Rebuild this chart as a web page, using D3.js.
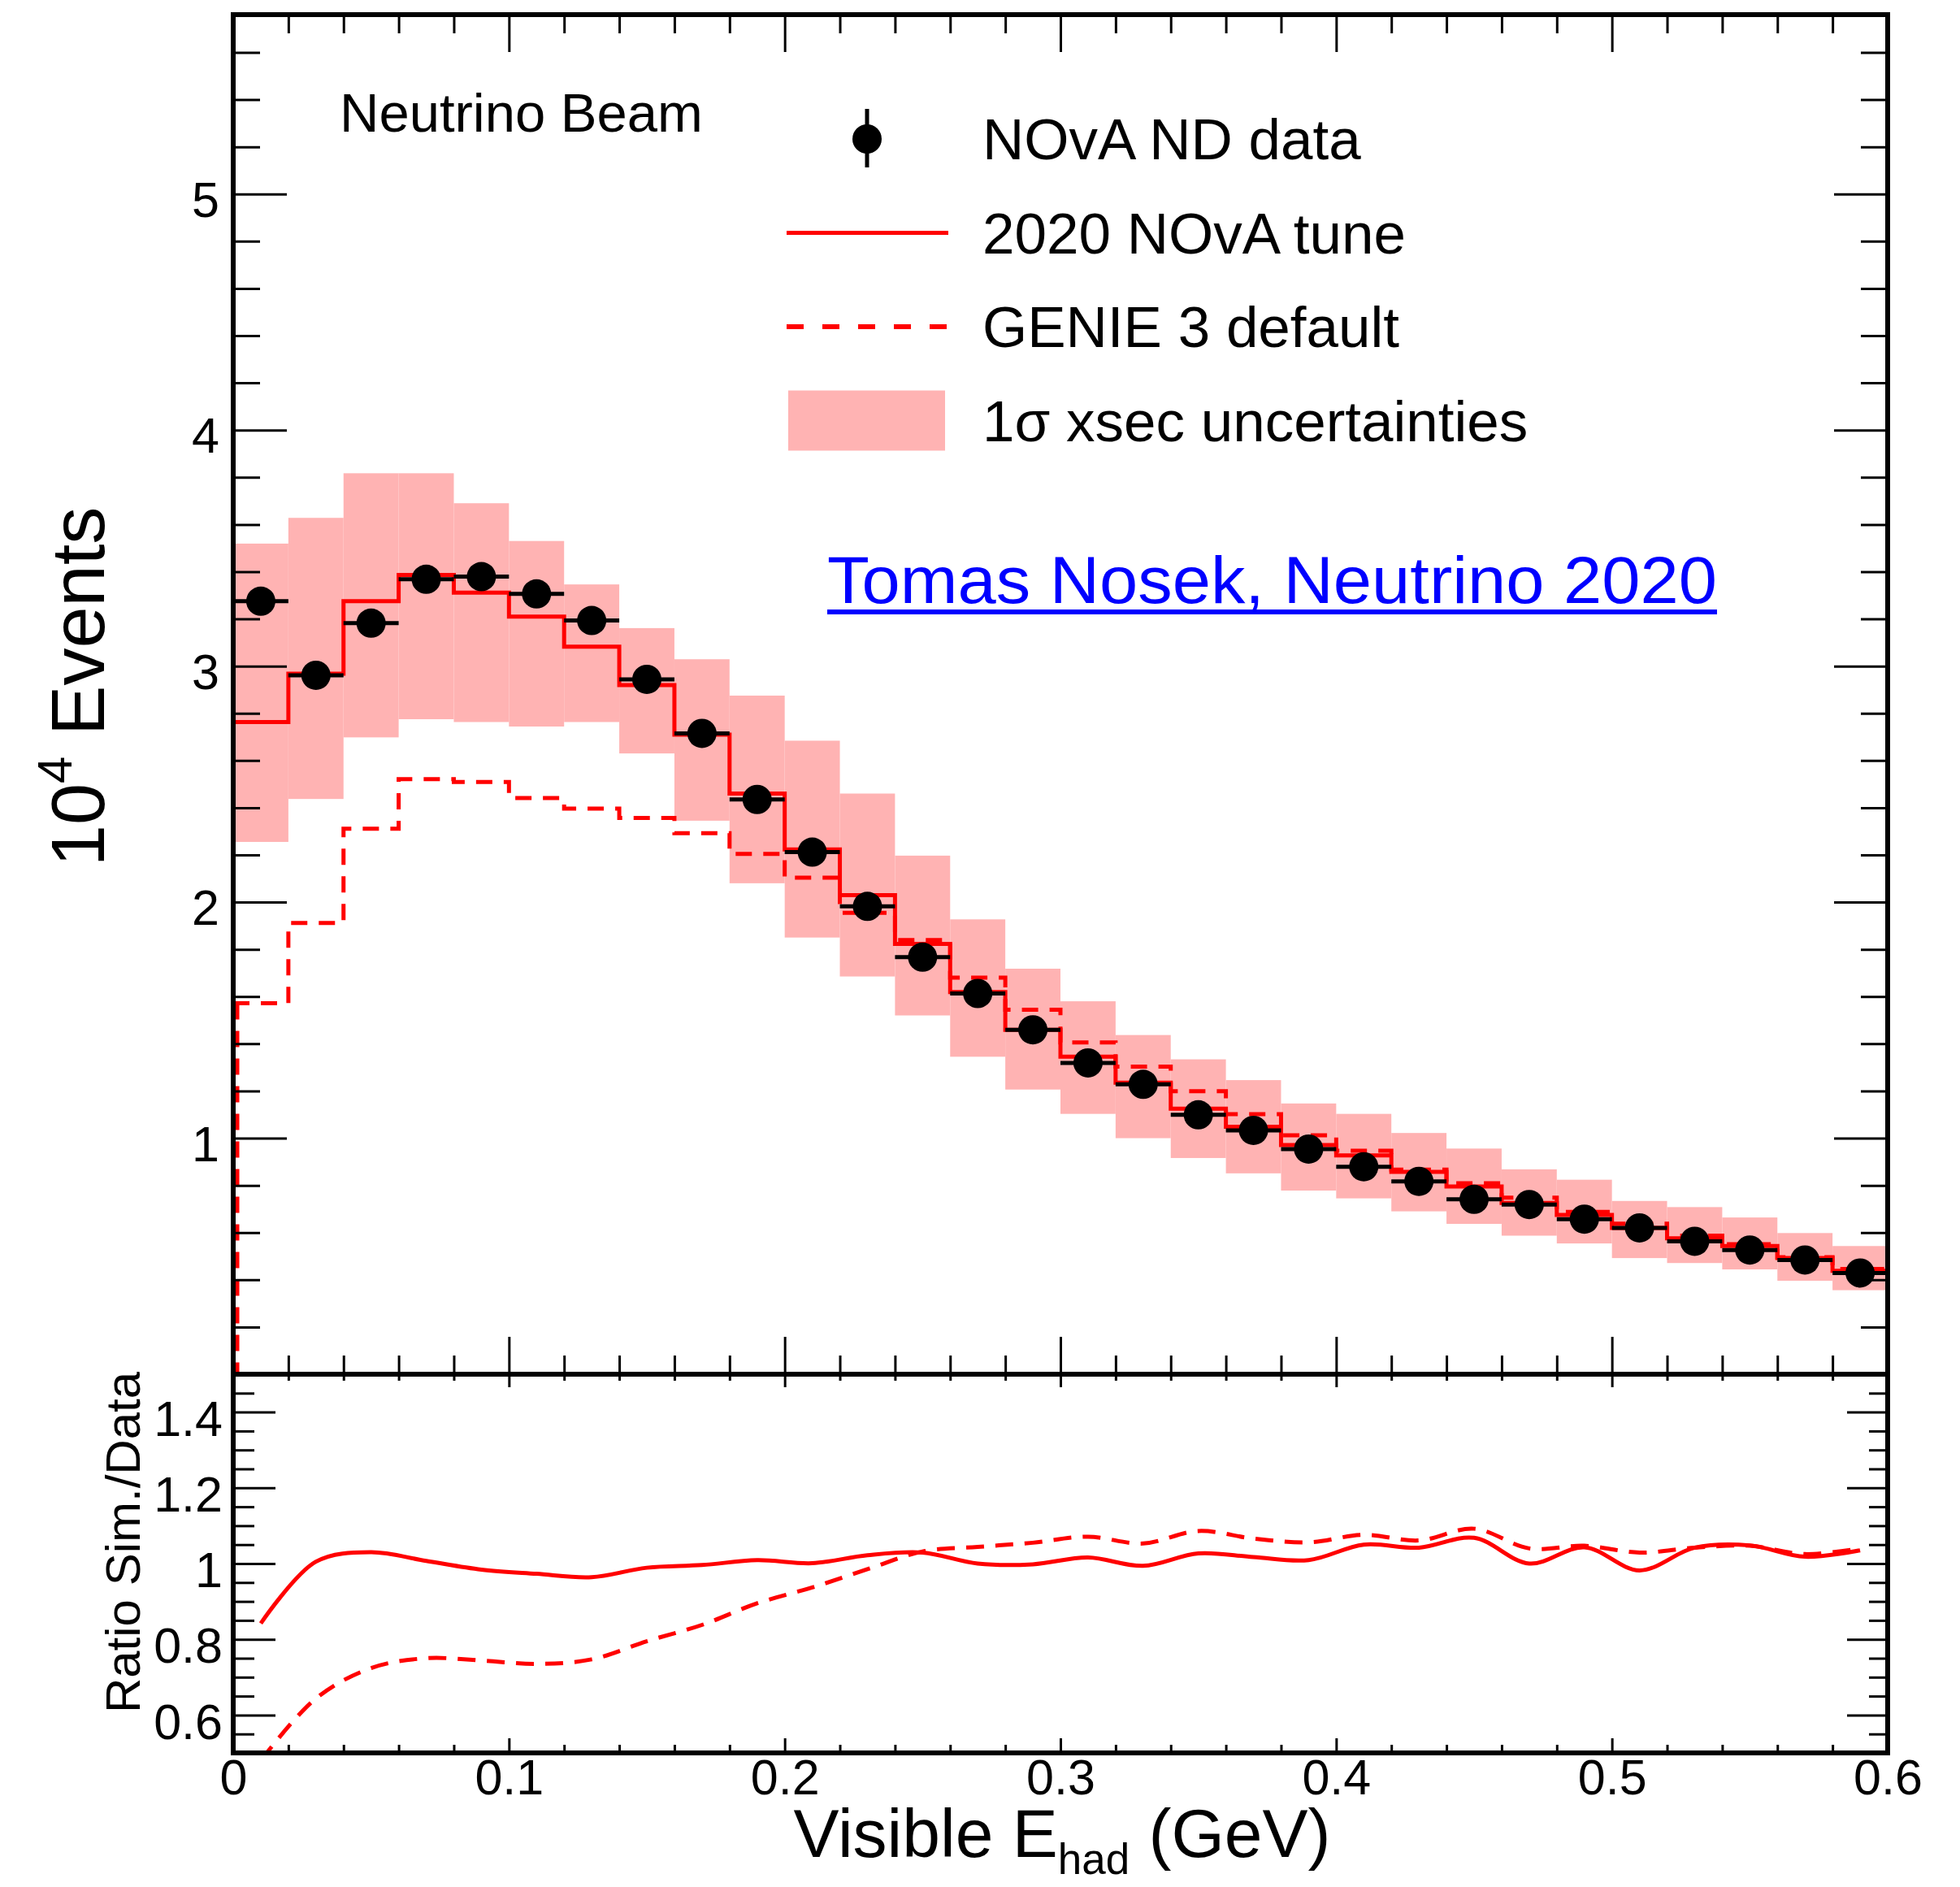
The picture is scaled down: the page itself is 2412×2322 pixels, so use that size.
<!DOCTYPE html>
<meta charset="utf-8">
<style>
body { margin: 0; background: #fff; }
svg { display: block; background: #fff; }
svg text { font-family: "Liberation Sans", Arial, Helvetica, sans-serif; fill: #000; }
</style>
<svg width="2412" height="2322"></svg>
<script src="https://cdn.jsdelivr.net/npm/d3@7"></script>
<script>

// bins of 0.02 GeV, values in units of 10^4 events
var binWidth = 0.02;
var binCenters = [0.01, 0.03, 0.05, 0.07, 0.09, 0.11, 0.13, 0.15, 0.17, 0.19,
                  0.21, 0.23, 0.25, 0.27, 0.29, 0.31, 0.33, 0.35, 0.37, 0.39,
                  0.41, 0.43, 0.45, 0.47, 0.49, 0.51, 0.53, 0.55, 0.57, 0.59];

var ndData = [3.275, 2.961, 3.182, 3.368, 3.379, 3.306, 3.193, 2.944, 2.715, 2.435,
              2.212, 1.982, 1.767, 1.613, 1.459, 1.319, 1.228, 1.099, 1.033, 0.954,
              0.879, 0.817, 0.741, 0.719, 0.657, 0.620, 0.563, 0.526, 0.484, 0.429];

var novaTune = [2.763, 2.968, 3.275, 3.386, 3.311, 3.210, 3.082, 2.920, 2.710, 2.460,
                2.223, 2.030, 1.823, 1.619, 1.459, 1.345, 1.235, 1.125, 1.048, 0.971,
                0.927, 0.857, 0.795, 0.726, 0.675, 0.620, 0.576, 0.543, 0.492, 0.438];

var genieDefault = [1.572, 1.912, 2.311, 2.521, 2.509, 2.441, 2.396, 2.357, 2.292, 2.204,
                    2.104, 1.955, 1.839, 1.680, 1.544, 1.406, 1.303, 1.199, 1.102, 1.012,
                    0.947, 0.867, 0.809, 0.748, 0.688, 0.638, 0.587, 0.551, 0.496, 0.446];

var bandHigh = [3.519, 3.628, 3.817, 3.817, 3.690, 3.530, 3.346, 3.161, 3.029, 2.875,
                2.684, 2.460, 2.197, 1.927, 1.718, 1.580, 1.437, 1.334, 1.246, 1.147,
                1.103, 1.022, 0.956, 0.868, 0.824, 0.734, 0.708, 0.664, 0.598, 0.543];

var bandLow = [2.255, 2.437, 2.698, 2.775, 2.763, 2.744, 2.763, 2.630, 2.345, 2.080,
               1.850, 1.685, 1.520, 1.345, 1.206, 1.103, 1.000, 0.916, 0.851, 0.778,
               0.745, 0.690, 0.637, 0.587, 0.554, 0.492, 0.471, 0.444, 0.396, 0.356];

var ratioTune = [0.842, 1.005, 1.030, 1.007, 0.984, 0.973, 0.964, 0.989, 0.996, 1.009,
                 1.001, 1.022, 1.029, 1.000, 0.998, 1.016, 0.994, 1.027, 1.017, 1.009,
                 1.050, 1.042, 1.068, 1.000, 1.043, 0.982, 1.042, 1.048, 1.018, 1.035];

var ratioGenie = [0.480, 0.644, 0.724, 0.750, 0.744, 0.735, 0.747, 0.795, 0.838, 0.895,
                  0.937, 0.985, 1.032, 1.044, 1.055, 1.071, 1.053, 1.086, 1.066, 1.056,
                  1.076, 1.061, 1.092, 1.040, 1.047, 1.029, 1.042, 1.047, 1.025, 1.040];

var xMajorTicks = [0, 0.1, 0.2, 0.3, 0.4, 0.5, 0.6];
var mainYTicks = [1, 2, 3, 4, 5];
var ratioYTicks = [0.6, 0.8, 1, 1.2, 1.4];
var legendLabels = ["NOvA ND data", "2020 NOvA tune", "GENIE 3 default", "1\u03c3 xsec uncertainties"];

var red = "#ff0000",
    bandColor = "#ffb3b3";

var svg = d3.select("svg");

var plotL = 287, plotR = 2323, mainT = 18, mainB = 1691, ratioB = 2157;

var x = d3.scaleLinear().domain([0, 0.6]).range([plotL, plotR]);
var y = d3.scaleLinear().domain([0, 5.76]).range([mainB, mainT]);
var yr = d3.scaleLinear().domain([0.5, 1.5]).range([ratioB, mainB]);

var defs = svg.append("defs");
defs.append("clipPath").attr("id", "clipMain").append("rect")
    .attr("x", plotL).attr("y", mainT).attr("width", plotR - plotL).attr("height", mainB - mainT);
defs.append("clipPath").attr("id", "clipRatio").append("rect")
    .attr("x", plotL).attr("y", mainB).attr("width", plotR - plotL).attr("height", ratioB - mainB);

var mainG = svg.append("g").attr("clip-path", "url(#clipMain)");

// uncertainty band
mainG.append("g").selectAll("rect")
    .data(binCenters)
    .enter().append("rect")
      .attr("x", function(d) { return x(d - binWidth / 2); })
      .attr("width", x(binWidth) - x(0))
      .attr("y", function(d, i) { return y(bandHigh[i]); })
      .attr("height", function(d, i) { return y(bandLow[i]) - y(bandHigh[i]); })
      .attr("fill", bandColor);

function stepPoints(vals) {
  var pts = binCenters.map(function(c, i) { return [c - binWidth / 2, vals[i]]; });
  var n = binCenters.length;
  pts.push([binCenters[n - 1] + binWidth / 2, vals[n - 1]]);
  return pts;
}

var stepLine = d3.line()
    .x(function(d) { return x(d[0]); })
    .y(function(d) { return y(d[1]); })
    .curve(d3.curveStepAfter);

// GENIE 3 default, with its drop to zero just inside the left frame
mainG.append("path")
    .attr("d", stepLine(stepPoints(genieDefault)))
    .attr("fill", "none")
    .attr("stroke", red)
    .attr("stroke-width", 5)
    .attr("stroke-dasharray", "20,14");
mainG.append("line")
    .attr("x1", x(0) + 5).attr("x2", x(0) + 5)
    .attr("y1", y(genieDefault[0])).attr("y2", y(0))
    .attr("stroke", red)
    .attr("stroke-width", 5)
    .attr("stroke-dasharray", "20,14");

// 2020 NOvA tune
mainG.append("path")
    .attr("d", stepLine(stepPoints(novaTune)))
    .attr("fill", "none")
    .attr("stroke", red)
    .attr("stroke-width", 5);

// data: horizontal bin-width bars and markers
var pts = mainG.append("g").selectAll("g")
    .data(binCenters)
    .enter().append("g");

pts.append("line")
    .attr("x1", function(d) { return x(d - binWidth / 2); })
    .attr("x2", function(d) { return x(d + binWidth / 2); })
    .attr("y1", function(d, i) { return y(ndData[i]); })
    .attr("y2", function(d, i) { return y(ndData[i]); })
    .attr("stroke", "#000")
    .attr("stroke-width", 5);

pts.append("circle")
    .attr("cx", function(d) { return x(d); })
    .attr("cy", function(d, i) { return y(ndData[i]); })
    .attr("r", 18)
    .attr("fill", "#000");

// ratio panel
var ratioG = svg.append("g").attr("clip-path", "url(#clipRatio)");

var ratioLine = d3.line()
    .x(function(d) { return x(d[0]); })
    .y(function(d) { return yr(d[1]); })
    .curve(d3.curveCatmullRom.alpha(0.5));

ratioG.append("path")
    .attr("d", ratioLine(binCenters.map(function(c, i) { return [c, ratioGenie[i]]; })))
    .attr("fill", "none")
    .attr("stroke", red)
    .attr("stroke-width", 5)
    .attr("stroke-dasharray", "22,14");

ratioG.append("path")
    .attr("d", ratioLine(binCenters.map(function(c, i) { return [c, ratioTune[i]]; })))
    .attr("fill", "none")
    .attr("stroke", red)
    .attr("stroke-width", 5);

// axes
function minorValues(lo, hi, step, major) {
  return d3.range(lo, hi + step / 2, step).filter(function(v) {
    return !major.some(function(m) { return Math.abs(m - v) < step / 10; });
  });
}

var xMinor = minorValues(0, 0.6, 0.02, xMajorTicks);
var mainYMinor = minorValues(0.2, 5.6, 0.2, mainYTicks);
var ratioYMinor = minorValues(0.55, 1.45, 0.05, ratioYTicks);

var fmt = function(d) { return String(+d.toFixed(1)); };

function addAxis(axis, tx, ty) {
  var g = svg.append("g")
      .attr("transform", "translate(" + tx + "," + ty + ")")
      .call(axis)
      .attr("font-family", "Liberation Sans, Arial, sans-serif")
      .attr("font-size", 61);
  g.select(".domain").remove();
  g.selectAll(".tick line").attr("stroke", "#000").attr("stroke-width", 3);
  g.selectAll(".tick text").attr("fill", "#000");
  return g;
}

// main panel
addAxis(d3.axisLeft(y).tickValues(mainYTicks).tickSize(-66).tickPadding(17).tickFormat(fmt), plotL, 0)
    .selectAll(".tick text").attr("dy", "0.45em");
addAxis(d3.axisLeft(y).tickValues(mainYMinor).tickSize(-33).tickFormat(""), plotL, 0);
addAxis(d3.axisRight(y).tickValues(mainYTicks).tickSize(-66).tickFormat(""), plotR, 0);
addAxis(d3.axisRight(y).tickValues(mainYMinor).tickSize(-33).tickFormat(""), plotR, 0);
addAxis(d3.axisTop(x).tickValues(xMajorTicks).tickSize(-46).tickFormat(""), 0, mainT);
addAxis(d3.axisTop(x).tickValues(xMinor).tickSize(-23).tickFormat(""), 0, mainT);
addAxis(d3.axisBottom(x).tickValues(xMajorTicks).tickSize(-46).tickFormat(""), 0, mainB);
addAxis(d3.axisBottom(x).tickValues(xMinor).tickSize(-23).tickFormat(""), 0, mainB);

// ratio panel
addAxis(d3.axisLeft(yr).tickValues(ratioYTicks).tickSize(-52).tickPadding(13).tickFormat(fmt), plotL, 0)
    .selectAll(".tick text").attr("dy", "0.47em");
addAxis(d3.axisLeft(yr).tickValues(ratioYMinor).tickSize(-26).tickFormat(""), plotL, 0);
addAxis(d3.axisRight(yr).tickValues(ratioYTicks).tickSize(-50).tickFormat(""), plotR, 0);
addAxis(d3.axisRight(yr).tickValues(ratioYMinor).tickSize(-23).tickFormat(""), plotR, 0);
addAxis(d3.axisTop(x).tickValues(xMajorTicks).tickSize(-16).tickFormat(""), 0, mainB);
addAxis(d3.axisTop(x).tickValues(xMinor).tickSize(-8).tickFormat(""), 0, mainB);
addAxis(d3.axisBottom(x).tickValues(xMajorTicks).tickSize(-18).tickPadding(8).tickFormat(fmt), 0, ratioB);
addAxis(d3.axisBottom(x).tickValues(xMinor).tickSize(-10).tickFormat(""), 0, ratioB);

// frames
svg.append("rect")
    .attr("x", plotL).attr("y", mainT)
    .attr("width", plotR - plotL).attr("height", mainB - mainT)
    .attr("fill", "none").attr("stroke", "#000").attr("stroke-width", 6);
svg.append("rect")
    .attr("x", plotL).attr("y", mainB)
    .attr("width", plotR - plotL).attr("height", ratioB - mainB)
    .attr("fill", "none").attr("stroke", "#000").attr("stroke-width", 6);

// axis titles
var yTitle = svg.append("text")
    .attr("transform", "translate(128,845) rotate(-90)")
    .attr("text-anchor", "middle")
    .attr("font-size", 92);
yTitle.append("tspan").text("10");
yTitle.append("tspan").attr("font-size", 60).attr("dy", -40).text("4");
yTitle.append("tspan").attr("dy", 40).text(" Events");

svg.append("text")
    .attr("transform", "translate(172,1898) rotate(-90)")
    .attr("text-anchor", "middle")
    .attr("font-size", 60)
    .text("Ratio Sim./Data");

var xTitle = svg.append("text")
    .attr("x", 1307).attr("y", 2285)
    .attr("text-anchor", "middle")
    .attr("font-size", 84);
xTitle.append("tspan").text("Visible E");
xTitle.append("tspan").attr("font-size", 53).attr("dy", 21).text("had");
xTitle.append("tspan").attr("dy", -21).text(" (GeV)");

// labels
svg.append("text")
    .attr("x", 418).attr("y", 162)
    .attr("font-size", 67)
    .text("Neutrino Beam");

// legend
var legX0 = 968, legX1 = 1167, legXc = 1067, legTextX = 1209;
var legY = legendLabels.map(function(d, i) { return 171 + i * 115.5; });

var legend = svg.append("g");
legend.selectAll("text")
    .data(legendLabels)
    .enter().append("text")
      .attr("x", legTextX)
      .attr("y", function(d, i) { return legY[i] + 25; })
      .attr("font-size", 71)
      .text(function(d) { return d; });

legend.append("line")
    .attr("x1", legXc).attr("x2", legXc)
    .attr("y1", legY[0] - 37).attr("y2", legY[0] + 35)
    .attr("stroke", "#000").attr("stroke-width", 5);
legend.append("circle")
    .attr("cx", legXc).attr("cy", legY[0]).attr("r", 18).attr("fill", "#000");
legend.append("line")
    .attr("x1", legX0).attr("x2", legX1)
    .attr("y1", legY[1]).attr("y2", legY[1])
    .attr("stroke", red).attr("stroke-width", 5);
legend.append("line")
    .attr("x1", legX0).attr("x2", legX1)
    .attr("y1", legY[2]).attr("y2", legY[2])
    .attr("stroke", red).attr("stroke-width", 6)
    .attr("stroke-dasharray", "21,23");
legend.append("rect")
    .attr("x", 970).attr("y", legY[3] - 37)
    .attr("width", 193).attr("height", 74)
    .attr("fill", bandColor);

// talk reference
svg.append("text")
    .attr("x", 1018).attr("y", 742)
    .attr("font-family", "Lato, 'Open Sans', sans-serif")
    .attr("font-size", 81)
    .attr("textLength", 1095)
    .attr("lengthAdjust", "spacingAndGlyphs")
    .style("fill", "#0000ff")
    .text("Tomas Nosek, Neutrino 2020");
svg.append("rect")
    .attr("x", 1018).attr("y", 750)
    .attr("width", 1095).attr("height", 6)
    .attr("fill", "#0000ff");

</script>
